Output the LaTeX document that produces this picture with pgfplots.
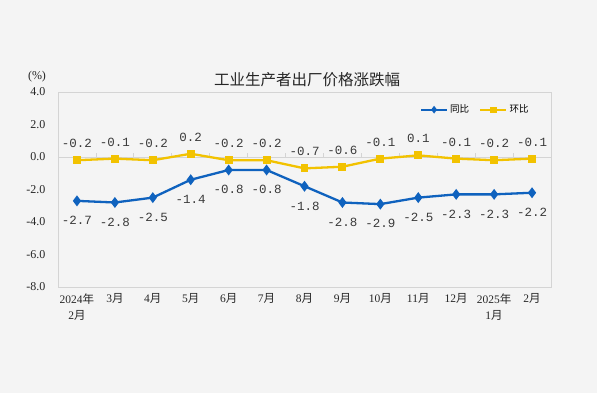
\documentclass[border=0pt]{standalone}
\usepackage{fontspec}
\usepackage{pgfplots}
\pgfplotsset{compat=1.18}
\setmainfont{Liberation Serif}
\newfontfamily\cjk{Noto Sans CJK SC}
\newfontfamily\lblfont{Liberation Mono}
\definecolor{bgc}{HTML}{F4F4F4}
\definecolor{bluec}{HTML}{0F62BE}
\definecolor{yelc}{HTML}{F2C200}
\definecolor{framec}{HTML}{D4D4D4}
\definecolor{txtc}{HTML}{3A3A3A}
\begin{document}
\begin{tikzpicture}
\fill[bgc] (0,0) rectangle (597pt,393pt);
\useasboundingbox (0,0) rectangle (597pt,393pt);
\node[font=\cjk\fontsize{15.5}{16}\selectfont, text=black!85] at (307pt,313pt) {工业生产者出厂价格涨跌幅};
\node[font=\fontsize{12}{12}\selectfont, text=black!85] at (37pt,316pt) {(\%)};
\begin{axis}[
  at={(58pt,106pt)}, anchor=south west,
  scale only axis, width=493pt, height=195pt,
  xmin=-0.5, xmax=12.5, ymin=-8, ymax=4,
  axis background/.style={fill=bgc},
  axis line style={framec, line width=0.8pt},
  ytick={-8,-6,-4,-2,0,2,4},
  yticklabels={-8.0,-6.0,-4.0,-2.0,0.0,2.0,4.0},
  yticklabel style={font=\fontsize{12}{12}\selectfont, text=black!85, xshift=-9pt},
  xtick={0,...,12},
  xticklabels={{2024\cjk{年}\\2\cjk{月}},3\cjk{月},4\cjk{月},5\cjk{月},6\cjk{月},7\cjk{月},8\cjk{月},9\cjk{月},10\cjk{月},11\cjk{月},12\cjk{月},{2025\cjk{年}\\1\cjk{月}},2\cjk{月}},
  xticklabel style={font=\fontsize{11.5}{16}\selectfont, text=black!85, align=center, anchor=north, yshift=-3pt},
  major tick length=0pt,
  legend style={at={(0.965,0.955)}, anchor=north east, draw=none, fill=none,
    font=\cjk\fontsize{9.5}{10}\selectfont, legend columns=2,
    /tikz/every even column/.append style={column sep=8pt}},
  legend image code/.code={\draw[#1, mark=none] (0pt,0pt) -- (26pt,0pt); \draw[#1, only marks, mark size=2pt] plot coordinates {(13pt,0pt)};},
  point meta=explicit symbolic,
  nodes near coords={\pgfplotspointmeta},
  every node near coord/.append style={font=\lblfont\fontsize{12.5}{13}\selectfont, text=txtc},
  clip=false,
]
\draw[framec, line width=0.8pt] (axis cs:-0.5,0) -- (axis cs:12.5,0);
\pgfplotsinvokeforeach{0.5,1.5,2.5,3.5,4.5,5.5,6.5,7.5,8.5,9.5,10.5,11.5}{\draw[framec, line width=0.8pt] (axis cs:#1,0) -- (axis cs:#1,0.25);}
\addplot[bluec, line width=2.3pt, mark=diamond*, mark size=3.6pt,
  every node near coord/.append style={anchor=north, yshift=-11pt}]
  coordinates {
  (0,-2.7) [-2.7] (1,-2.8) [-2.8] (2,-2.5) [-2.5] (3,-1.4) [-1.4]
  (4,-0.8) [-0.8] (5,-0.8) [-0.8] (6,-1.8) [-1.8] (7,-2.8) [-2.8]
  (8,-2.9) [-2.9] (9,-2.5) [-2.5] (10,-2.3) [-2.3] (11,-2.3) [-2.3] (12,-2.2) [-2.2]
  };
\addlegendentry{同比}
\addplot[yelc, line width=2.3pt, mark=square*, mark size=2.8pt,
  every node near coord/.append style={anchor=south, yshift=8pt}]
  coordinates {
  (0,-0.2) [-0.2] (1,-0.1) [-0.1] (2,-0.2) [-0.2] (3,0.2) [0.2]
  (4,-0.2) [-0.2] (5,-0.2) [-0.2] (6,-0.7) [-0.7] (7,-0.6) [-0.6]
  (8,-0.1) [-0.1] (9,0.1) [0.1] (10,-0.1) [-0.1] (11,-0.2) [-0.2] (12,-0.1) [-0.1]
  };
\addlegendentry{环比}
\end{axis}
\end{tikzpicture}
\end{document}
